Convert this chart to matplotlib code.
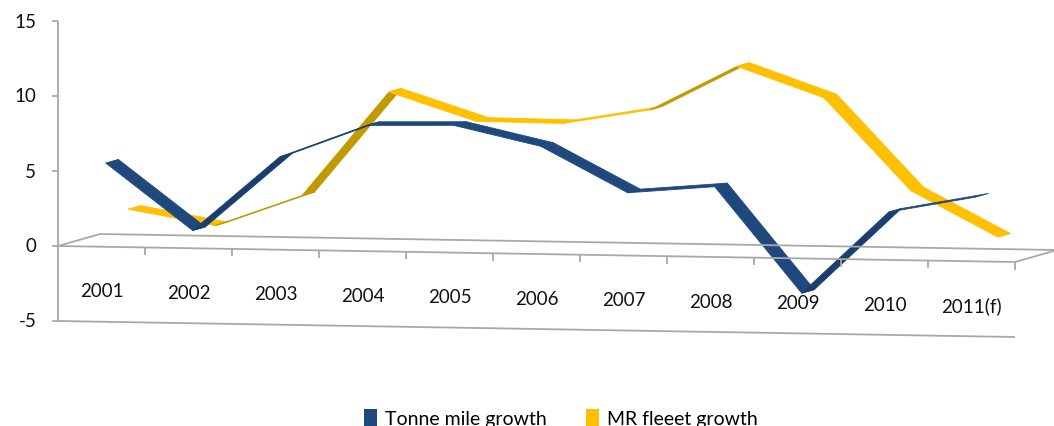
import matplotlib
matplotlib.use('Agg')
import matplotlib.pyplot as plt
from matplotlib.transforms import Affine2D
from matplotlib.patches import Polygon, Patch
import numpy as np

categories = ['2001', '2002', '2003', '2004', '2005', '2006', '2007', '2008', '2009', '2010', '2011(f)']
tonne_mile_growth = [5.5, 1.1, 6.1, 8.3, 8.4, 7.1, 4.1, 4.6, -2.4, 3.1, 4.2]
mr_fleet_growth = [2.0, 1.0, 3.1, 10.1, 8.25, 8.2, 9.2, 12.2, 10.2, 4.1, 1.1]
y_ticks = [-5, 0, 5, 10, 15]

BLUE, BLUE_DARK = '#1F497D', '#1A3F6C'
GOLD, GOLD_DARK = '#FFC000', '#C09A00'
GRID = '#A8A8A8'
FONT = 'Lato'

W, H = 1054, 427
fig = plt.figure(figsize=(W / 100, H / 100), dpi=100)
ax = fig.add_axes([58 / W, (H - 322) / H, 957 / W, 300 / H])
n = len(categories)
ax.set_xlim(0, n)
ax.set_ylim(-5, 15)
ax.axis('off')

# oblique projection used to imitate the 3-D look
DX, DY, SLANT = 42 / 87, 12 / 15, 0.097


def proj(d):
    return Affine2D(np.array([[1, 0, DX * d], [-SLANT, 1, DY * d], [0, 0, 1]]))


def line3d(pts, d, **kw):
    p = proj(d).transform(np.asarray(pts, float))
    ax.plot(p[:, 0], p[:, 1], **kw)


gkw = dict(color=GRID, lw=1.3, solid_capstyle='butt', clip_on=False)
# floor at zero
line3d([(0, 0), (n, 0)], 0, **gkw)
line3d([(0, 0), (n, 0)], 1, **gkw)
p0 = proj(0).transform([(0, 0), (n, 0)])
p1 = proj(1).transform([(0, 0), (n, 0)])
ax.plot([p0[0, 0], p1[0, 0]], [p0[0, 1], p1[0, 1]], **gkw)
ax.plot([p0[1, 0], p1[1, 0]], [p0[1, 1], p1[1, 1]], **gkw)
# bottom edge at -5
line3d([(0, -5), (n, -5)], 0, **gkw)
# vertical axis
ax.plot([0, 0], [-5, 15], **gkw)
for t in y_ticks:
    ax.plot([-0.07, 0], [t, t], **gkw)
    ax.text(-0.25, t, str(t), ha='right', va='center', fontsize=13.5, family=FONT, color='#111111')
# category ticks
for i in range(1, n + 1):
    p = proj(0).transform([(i, 0), (i, -0.5)])
    ax.plot(p[:, 0], p[:, 1], **gkw)
# category labels
for i, c in enumerate(categories):
    p = proj(0).transform([(i + 0.5, -2.95)])[0]
    ax.text(p[0], p[1], c, ha='center', va='center', fontsize=13.5, family=FONT, color='#111111')


def ribbon(values, d, w, color, dark):
    pts = np.column_stack([np.arange(n) + 0.5, values])
    front = proj(d - w / 2).transform(pts)
    back = proj(d + w / 2).transform(pts)
    for i in range(n - 1):
        poly = [front[i], front[i + 1], back[i + 1], back[i]]
        a = ax.transData.transform(front[i])
        b = ax.transData.transform(front[i + 1])
        e = ax.transData.transform(back[i]) - a
        s = b - a
        cross = s[0] * e[1] - s[1] * e[0]
        fc = color if cross > 0 else dark
        ax.add_patch(Polygon(poly, closed=True, facecolor=fc, edgecolor=fc, lw=0.6,
                             joinstyle='round', clip_on=False))


ribbon(mr_fleet_growth, 0.78, 0.3, GOLD, GOLD_DARK)
ribbon(tonne_mile_growth, 0.25, 0.3, BLUE, BLUE_DARK)

handles = [Patch(facecolor=BLUE, label='Tonne mile growth'),
           Patch(facecolor=GOLD, label='MR fleeet growth')]
fig.legend(handles=handles, loc='center', bbox_to_anchor=(0.532, 0.018), ncol=2, frameon=False,
           prop={'family': FONT, 'size': 14}, handlelength=0.7, handleheight=0.9,
           handletextpad=0.4, columnspacing=2.0)

fig.savefig('out.png', dpi=100)
